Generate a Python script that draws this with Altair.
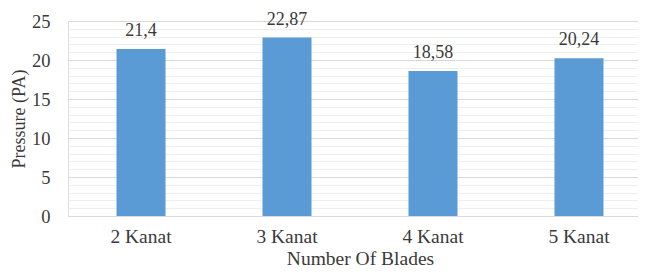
import altair as alt
import pandas as pd

categories = ["2 Kanat", "3 Kanat", "4 Kanat", "5 Kanat"]
pressure = [21.4, 22.87, 18.58, 20.24]
y_ticks = list(range(0, 26))

df = pd.DataFrame({"blades": categories, "pressure": pressure})

FONT = "Liberation Serif"
TEXT = "#3a3a3a"

base = alt.Chart(df).encode(
    x=alt.X(
        "blades:N",
        sort=categories,
        scale=alt.Scale(paddingInner=0, paddingOuter=0, range=[0, 584]),
        axis=alt.Axis(
            title="Number Of Blades",
            labelAngle=0,
            ticks=False,
            domain=False,
            labelBaseline="alphabetic",
            labelPadding=26,
            labelFontSize=19.5,
            labelFont=FONT,
            labelColor=TEXT,
            titleFont=FONT,
            titleFontSize=19.5,
            titleFontWeight="normal",
            titleColor=TEXT,
            titleBaseline="alphabetic",
            titleY=48.5,
            titleX=292,
        ),
    ),
    y=alt.Y(
        "pressure:Q",
        scale=alt.Scale(domain=[0, 25], nice=False),
        axis=alt.Axis(
            title="Pressure (PA)",
            values=y_ticks,
            labelExpr="datum.value % 5 === 0 ? datum.label : ''",
            labelOverlap=False,
            ticks=False,
            domain=False,
            grid=True,
            gridColor=alt.condition("datum.value % 5 === 0", alt.value("#d9d9d9"), alt.value("#efefef")),
            gridWidth=1,
            labelPadding=18,
            labelFontSize=18.5,
            labelFont=FONT,
            labelColor=TEXT,
            titleFont=FONT,
            titleFontSize=18,
            titleFontWeight="normal",
            titleColor=TEXT,
            titleX=-44,
            titleY=97.5,
            titleBaseline="alphabetic",
        ),
    ),
)

bars = base.mark_bar(size=49, color="#5b9bd5")

labels = base.transform_calculate(
    lab="replace(toString(datum.pressure), '.', ',')"
).mark_text(
    font=FONT, fontSize=18, color=TEXT, baseline="alphabetic", dy=-13
).encode(text="lab:N")

chart = (
    alt.layer(bars, labels)
    .properties(
        width=570,
        height=195,
        autosize=alt.AutoSizeParams(type="none"),
        padding={"left": 60, "top": 13, "right": 0, "bottom": 53},
    )
    .configure_view(stroke=None)
    .configure(background="white")
)

chart.save("out.html", embed_options={"renderer": "svg", "actions": False})
